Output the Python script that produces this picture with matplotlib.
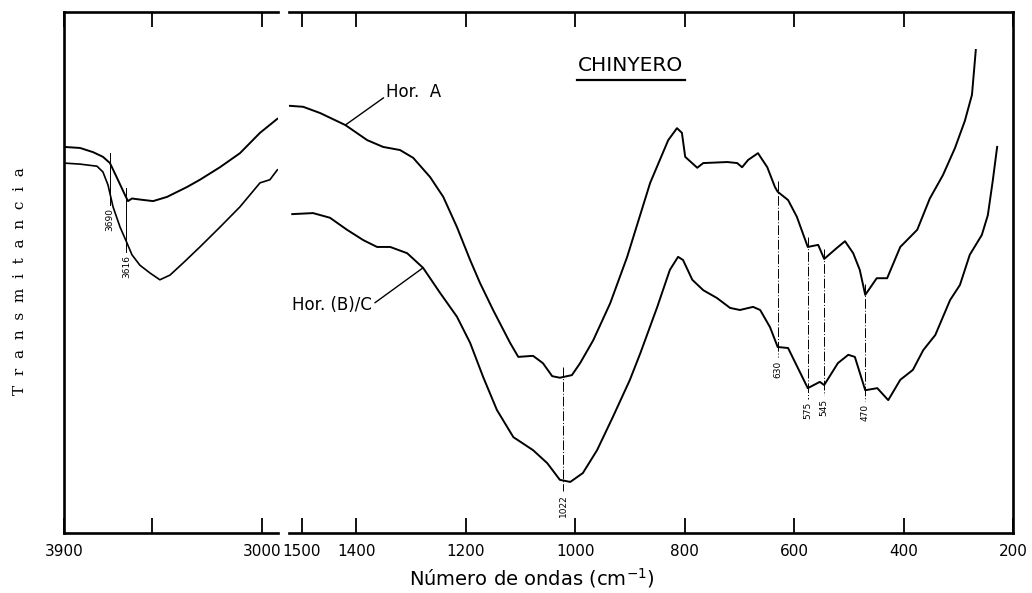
import numpy as np
import matplotlib
matplotlib.use("Agg")
import matplotlib.pyplot as plt

# O-H stretching region (cm-1) and transmittance (arbitrary %)
wn_oh_a = [3900, 3827, 3768, 3723, 3691, 3655, 3623, 3609, 3591, 3555,
           3495, 3432, 3341, 3282, 3191, 3100, 3009, 2930]
t_oh_a = [74.1, 73.9, 73.1, 72.2, 71.0, 67.8, 64.9, 63.7, 64.2, 64.0,
          63.7, 64.5, 66.4, 67.8, 70.2, 72.9, 76.8, 79.5]

wn_oh_bc = [3900, 3827, 3750, 3723, 3700, 3677, 3645, 3614, 3591, 3555,
            3509, 3464, 3418, 3359, 3282, 3191, 3100, 3009, 2964, 2930]
t_oh_bc = [71.0, 70.8, 70.4, 69.3, 66.8, 62.6, 58.7, 55.7, 53.4, 51.4,
           49.9, 48.6, 49.5, 51.8, 54.9, 58.7, 62.6, 67.2, 67.8, 69.7]

# 1530-200 cm-1 region
wn_fp_a = [1523, 1497, 1466, 1420, 1380, 1351, 1320, 1296, 1265, 1241,
           1216, 1192, 1174, 1150, 1119, 1104, 1077, 1059, 1042, 1028,
           1006, 991, 967, 936, 905, 863, 830, 814, 805, 799,
           777, 766, 722, 704, 695, 684, 666, 649, 635, 630,
           611, 595, 575, 556, 545, 522, 507, 492, 480, 470,
           449, 430, 406, 375, 352, 328, 306, 288, 275, 268]
t_fp_a = [82.0, 81.8, 80.6, 78.3, 75.4, 74.1, 73.5, 72.0, 68.3, 64.5,
          58.7, 52.4, 48.0, 42.8, 36.5, 33.8, 34.0, 32.6, 30.1, 29.8,
          30.3, 32.6, 37.0, 44.1, 53.0, 67.2, 75.4, 77.7, 76.8, 72.2,
          70.1, 71.0, 71.2, 71.0, 70.2, 71.6, 72.9, 70.2, 66.4, 65.5,
          63.9, 60.7, 54.9, 55.3, 52.6, 54.7, 56.0, 53.7, 50.5, 45.7,
          48.9, 48.9, 54.9, 58.2, 64.2, 68.7, 73.9, 79.1, 84.1, 92.7]

wn_fp_bc = [1517, 1479, 1448, 1417, 1387, 1362, 1338, 1307, 1278, 1247,
            1216, 1192, 1168, 1143, 1113, 1077, 1051, 1028, 1009, 986,
            960, 931, 900, 881, 850, 827, 812, 803, 786, 766,
            741, 717, 699, 675, 662, 644, 630, 611, 575, 553,
            545, 520, 501, 489, 470, 448, 428, 406, 383, 364,
            342, 315, 297, 279, 257, 246, 237, 229]
t_fp_bc = [61.2, 61.4, 60.5, 58.2, 56.2, 54.9, 54.9, 53.7, 50.9, 46.1,
           41.5, 36.5, 29.9, 23.6, 18.4, 15.9, 13.4, 10.2, 9.8, 11.5,
           15.9, 22.3, 29.4, 34.5, 43.4, 50.5, 53.0, 52.4, 48.6, 46.6,
           45.1, 43.2, 42.8, 43.4, 42.8, 39.5, 35.7, 35.5, 27.8, 29.0,
           28.4, 32.6, 34.2, 33.8, 27.4, 27.8, 25.5, 29.4, 31.3, 35.1,
           38.0, 44.7, 47.6, 53.4, 57.2, 61.0, 67.6, 74.1]

bands_oh = [3690, 3616]
bands_fp = [1022, 630, 575, 545, 470]

ticks_oh = [3900, 3500, 3000]
ticklabels_oh = ["3900", "", "3000"]
ticks_fp = [1500, 1400, 1200, 1000, 800, 600, 400, 200]


def curve_at(band, wn, t):
    return np.interp(band, wn[::-1], t[::-1])


def mark_bands(ax, bands, wn_top, t_top, wn_bot, t_bot, ls):
    for band in bands:
        top = curve_at(band, wn_top, t_top) + 2.0
        bot = curve_at(band, wn_bot, t_bot) - 2.0
        ax.plot([band, band], [top, bot], color="black", lw=0.7, ls=ls)
        ax.text(band, bot - 0.6, str(band), rotation=90, ha="center",
                va="top", fontsize=6.5)


def style_axes(ax, ticks, labels, xlim, hide):
    ax.set_xlim(*xlim)
    ax.set_ylim(0, 100)
    ax.set_xticks(ticks)
    ax.set_xticklabels(labels)
    ax.set_yticks([])
    ax.tick_params(axis="x", which="both", direction="in", top=True,
                   length=11, width=1.3, pad=8, labelsize=11)
    ax.spines[hide].set_visible(False)
    for side in ("left", "right", "top", "bottom"):
        ax.spines[side].set_linewidth(1.9)


fig = plt.figure(figsize=(10.32, 5.93), dpi=100)
ax_oh = fig.add_axes([0.0620, 0.1012, 0.2074, 0.8786])
ax_fp = fig.add_axes([0.2800, 0.1012, 0.7016, 0.8786])

ax_oh.plot(wn_oh_a, t_oh_a, color="black", lw=1.4)
ax_oh.plot(wn_oh_bc, t_oh_bc, color="black", lw=1.2)
ax_fp.plot(wn_fp_a, t_fp_a, color="black", lw=1.4)
ax_fp.plot(wn_fp_bc, t_fp_bc, color="black", lw=1.4)

style_axes(ax_oh, ticks_oh, ticklabels_oh, (3900, 2927), "right")
style_axes(ax_fp, ticks_fp, [str(t) for t in ticks_fp], (1523, 200), "left")

mark_bands(ax_oh, bands_oh, wn_oh_a, t_oh_a, wn_oh_bc, t_oh_bc, "-")
mark_bands(ax_fp, bands_fp, wn_fp_a, t_fp_a, wn_fp_bc, t_fp_bc,
           (0, (10, 2, 1, 2)))

# curve labels with leader lines
ax_fp.annotate("Hor.  A", xy=(1420, curve_at(1420, wn_fp_a, t_fp_a)),
               xytext=(1345, 84.6), ha="left", va="center", fontsize=12,
               arrowprops=dict(arrowstyle="-", color="black", lw=1.0,
                               shrinkA=0, shrinkB=0, relpos=(0, 0.3)))
ax_fp.annotate("Hor. (B)/C", xy=(1278, curve_at(1278, wn_fp_bc, t_fp_bc)),
               xytext=(1371, 43.8), ha="right", va="center", fontsize=12,
               arrowprops=dict(arrowstyle="-", color="black", lw=1.0,
                               shrinkA=0, shrinkB=0, relpos=(1, 0.5)))

ax_fp.text(0.472, 0.898, "CHINYERO", transform=ax_fp.transAxes,
           ha="center", va="center", fontsize=14.5)
ax_fp.plot([0.398, 0.547], [0.869, 0.869], transform=ax_fp.transAxes,
           color="black", lw=1.6)

fig.text(0.019, 0.526, "  ".join("Transmitancia"), rotation=90,
         ha="center", va="center", family="DejaVu Serif", fontsize=11)
fig.text(0.515, 0.025, "Número de ondas (cm$^{-1}$)", ha="center",
         va="center", fontsize=14)

fig.savefig("out.png", dpi=100)
